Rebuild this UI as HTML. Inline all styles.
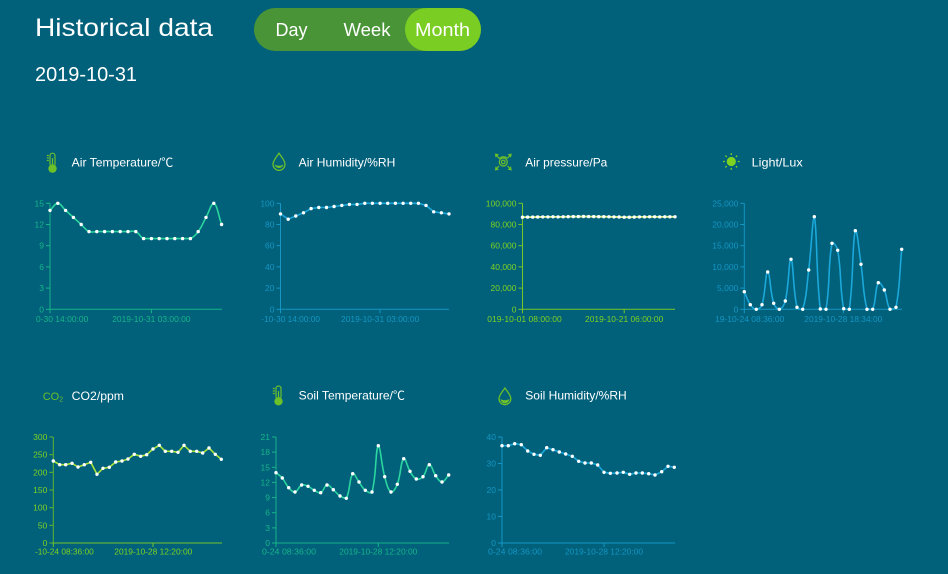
<!DOCTYPE html>
<html>
<head>
<meta charset="utf-8">
<style>
  html,body{margin:0;padding:0;background:#01607a;}
  body{width:948px;height:574px;overflow:hidden;}
  svg{display:block;font-family:"Liberation Sans","Noto Sans CJK SC",sans-serif;}
  .yl{font-size:8.5px;text-anchor:end;}
  .xl{font-size:8.5px;}
  .ttl{font-size:12px;fill:#ffffff;}
</style>
</head>
<body>
<svg width="948" height="574" viewBox="0 0 948 574" xmlns="http://www.w3.org/2000/svg">
  <rect x="0" y="0" width="948" height="574" fill="#01607a"/>

  <!-- Header -->
  <text x="35" y="36" font-size="25" fill="#ffffff" textLength="178" lengthAdjust="spacingAndGlyphs">Historical data</text>
  <text x="35" y="81" font-size="20" fill="#ffffff" textLength="102" lengthAdjust="spacingAndGlyphs">2019-10-31</text>

  <rect x="254" y="8" width="227" height="43" rx="21.5" fill="#4a9438"/>
  <rect x="405" y="8" width="76" height="43" rx="21.5" fill="#7acd22"/>
  <text x="291.5" y="36" font-size="18.5" fill="#ffffff" text-anchor="middle" textLength="32" lengthAdjust="spacingAndGlyphs">Day</text>
  <text x="367" y="36" font-size="18.5" fill="#ffffff" text-anchor="middle" textLength="47" lengthAdjust="spacingAndGlyphs">Week</text>
  <text x="442.5" y="36" font-size="18.5" fill="#ffffff" text-anchor="middle" textLength="55" lengthAdjust="spacingAndGlyphs">Month</text>

  <!-- ============ Chart 1: Air Temperature ============ -->
  <g>
    <g stroke="#6cc02a" fill="none" stroke-width="1.2">
      <rect x="50" y="153.2" width="5" height="13" rx="2.5"/>
      <circle cx="52.5" cy="168.6" r="3.6" fill="#6cc02a"/>
      <line x1="52.5" y1="158" x2="52.5" y2="166"/>
      <line x1="46.8" y1="155.5" x2="48.8" y2="155.5"/>
      <line x1="46.8" y1="158" x2="48.8" y2="158"/>
      <line x1="46.8" y1="160.5" x2="48.8" y2="160.5"/>
    </g>
    <text class="ttl" x="71.7" y="166.7" textLength="101.6" lengthAdjust="spacingAndGlyphs">Air Temperature/℃</text>
    <g stroke="#17b58a" stroke-width="1">
      <line x1="50" y1="203.3" x2="50" y2="309.3"/>
      <line x1="50" y1="309.3" x2="222" y2="309.3"/>
      <line x1="46" y1="309.3" x2="50" y2="309.3"/>
      <line x1="46" y1="288.1" x2="50" y2="288.1"/>
      <line x1="46" y1="266.9" x2="50" y2="266.9"/>
      <line x1="46" y1="245.7" x2="50" y2="245.7"/>
      <line x1="46" y1="224.5" x2="50" y2="224.5"/>
      <line x1="46" y1="203.3" x2="50" y2="203.3"/>
      <line x1="50" y1="309.3" x2="50" y2="313.3"/>
      <line x1="151.4" y1="309.3" x2="151.4" y2="313.3"/>
    </g>
    <g fill="#17b58a">
      <text class="yl" x="44" y="312.3">0</text>
      <text class="yl" x="44" y="291.1">3</text>
      <text class="yl" x="44" y="269.9">6</text>
      <text class="yl" x="44" y="248.7">9</text>
      <text class="yl" x="44" y="227.5">12</text>
      <text class="yl" x="44" y="206.3">15</text>
      <text class="xl" x="36" y="322" textLength="52.3" lengthAdjust="spacingAndGlyphs">0-30 14:00:00</text>
      <text class="xl" x="112.2" y="322" textLength="78.3" lengthAdjust="spacingAndGlyphs">2019-10-31 03:00:00</text>
    </g>
    <g>
      <polyline class="ln sm" fill="none" stroke="#2bd6a0" stroke-width="1.6" stroke-linejoin="round"
        points="50,210.4 57.8,203.3 65.6,210.4 73.4,217.4 81.2,224.5 89,231.6 96.8,231.6 104.6,231.6 112.4,231.6 120.2,231.6 128,231.6 135.8,231.6 143.6,238.6 151.4,238.6 159.2,238.6 167,238.6 174.8,238.6 182.6,238.6 190.4,238.6 198.2,231.6 206,217.4 213.8,203.3 221.6,224.5"/>
    </g>
  </g>

  <!-- ============ Chart 2: Air Humidity ============ -->
  <g>
    <g>
      <path d="M279,153.3 C276.5,157 273,160.5 273,164.3 A6,6 0 0 0 285,164.3 C285,160.5 281.5,157 279,153.3 Z" fill="none" stroke="#6cc02a" stroke-width="1.3"/>
      <path d="M274.6,164.5 Q279,167 283.4,164.5 A4.5,4.5 0 0 1 274.6,164.5 Z" fill="#6cc02a"/>
    </g>
    <text class="ttl" x="298.7" y="166.7" textLength="96.6" lengthAdjust="spacingAndGlyphs">Air Humidity/%RH</text>
    <g stroke="#1596c4" stroke-width="1">
      <line x1="280.5" y1="203.3" x2="280.5" y2="309.3"/>
      <line x1="280.5" y1="309.3" x2="449" y2="309.3"/>
      <line x1="276.5" y1="309.3" x2="280.5" y2="309.3"/>
      <line x1="276.5" y1="288.1" x2="280.5" y2="288.1"/>
      <line x1="276.5" y1="266.9" x2="280.5" y2="266.9"/>
      <line x1="276.5" y1="245.7" x2="280.5" y2="245.7"/>
      <line x1="276.5" y1="224.5" x2="280.5" y2="224.5"/>
      <line x1="276.5" y1="203.3" x2="280.5" y2="203.3"/>
      <line x1="280.5" y1="309.3" x2="280.5" y2="313.3"/>
      <line x1="380.1" y1="309.3" x2="380.1" y2="313.3"/>
    </g>
    <g fill="#1596c4">
      <text class="yl" x="274.5" y="312.3">0</text>
      <text class="yl" x="274.5" y="291.1">20</text>
      <text class="yl" x="274.5" y="269.9">40</text>
      <text class="yl" x="274.5" y="248.7">60</text>
      <text class="yl" x="274.5" y="227.5">80</text>
      <text class="yl" x="274.5" y="206.3">100</text>
      <text class="xl" x="261.3" y="322" textLength="58.7" lengthAdjust="spacingAndGlyphs">-10-30 14:00:00</text>
      <text class="xl" x="341" y="322" textLength="78.3" lengthAdjust="spacingAndGlyphs">2019-10-31 03:00:00</text>
    </g>
    <polyline class="ln" fill="none" stroke="#1ba8da" stroke-width="1.6" stroke-linejoin="round"
      points="280.5,213.9 288.2,219.2 295.8,216 303.5,212.8 311.1,208.6 318.8,207.5 326.5,207.5 334.1,206.5 341.8,205.4 349.4,204.4 357.1,204.4 364.8,203.3 372.4,203.3 380.1,203.3 387.7,203.3 395.4,203.3 403.1,203.3 410.7,203.3 418.4,203.3 426,205.4 433.7,211.8 441.4,212.8 449,213.9"/>
  </g>

  <!-- ============ Chart 3: Air pressure ============ -->
  <g>
    <g stroke="#6cc02a" fill="none" stroke-width="1.2">
      <circle cx="503.3" cy="162" r="1.8"/>
      <circle cx="503.3" cy="162" r="4"/>
      <path d="M499,159 A5.5,5.5 0 0 1 507.5,158.5"/>
      <line x1="496" y1="155" x2="499" y2="158"/>
      <line x1="510.6" y1="155" x2="507.6" y2="158"/>
      <line x1="496" y1="169" x2="499" y2="166"/>
      <line x1="510.6" y1="169" x2="507.6" y2="166"/>
    </g>
    <g fill="#6cc02a">
      <polygon points="494.8,153.5 499,154.3 495.6,157.7"/>
      <polygon points="511.8,153.5 507.6,154.3 511,157.7"/>
      <polygon points="494.8,170.5 499,169.7 495.6,166.3"/>
      <polygon points="511.8,170.5 507.6,169.7 511,166.3"/>
    </g>
    <text class="ttl" x="525.3" y="166.7" textLength="82" lengthAdjust="spacingAndGlyphs">Air pressure/Pa</text>
    <g stroke="#74c62a" stroke-width="1">
      <line x1="522.5" y1="203.3" x2="522.5" y2="309.3"/>
      <line x1="522.5" y1="309.3" x2="675" y2="309.3"/>
      <line x1="518.5" y1="309.3" x2="522.5" y2="309.3"/>
      <line x1="518.5" y1="288.1" x2="522.5" y2="288.1"/>
      <line x1="518.5" y1="266.9" x2="522.5" y2="266.9"/>
      <line x1="518.5" y1="245.7" x2="522.5" y2="245.7"/>
      <line x1="518.5" y1="224.5" x2="522.5" y2="224.5"/>
      <line x1="518.5" y1="203.3" x2="522.5" y2="203.3"/>
      <line x1="522.5" y1="309.3" x2="522.5" y2="313.3"/>
      <line x1="624.2" y1="309.3" x2="624.2" y2="313.3"/>
    </g>
    <g fill="#7ed321">
      <text class="yl" x="516.5" y="312.3">0</text>
      <text class="yl" x="516.5" y="291.1">20,000</text>
      <text class="yl" x="516.5" y="269.9">40,000</text>
      <text class="yl" x="516.5" y="248.7">60,000</text>
      <text class="yl" x="516.5" y="227.5">80,000</text>
      <text class="yl" x="516.5" y="206.3">100,000</text>
      <text class="xl" x="487.3" y="322" textLength="74.4" lengthAdjust="spacingAndGlyphs">019-10-01 08:00:00</text>
      <text class="xl" x="585" y="322" textLength="78.3" lengthAdjust="spacingAndGlyphs">2019-10-21 06:00:00</text>
    </g>
    <polyline class="ln sm" fill="none" stroke="#d8f27a" stroke-width="1.8" stroke-linejoin="round"
      points="522.5,217.2 527.6,217.1 532.7,217.1 537.7,217 542.8,216.9 547.9,216.9 553,216.8 558.1,216.9 563.2,216.8 568.2,216.7 573.3,216.6 578.4,216.6 583.5,216.5 588.6,216.6 593.7,216.6 598.7,216.7 603.8,216.7 608.9,216.8 614,216.9 619.1,217 624.2,217.2 629.2,217.2 634.3,217.1 639.4,216.9 644.5,216.9 649.6,216.8 654.7,216.8 659.7,216.9 664.8,216.8 669.9,216.8 675,216.8"/>
  </g>

  <!-- ============ Chart 4: Light ============ -->
  <g>
    <g>
      <circle cx="731.3" cy="161.5" r="4.6" fill="#7ed321"/>
      <g stroke="#7ed321" stroke-width="1.3">
        <line x1="731.3" y1="153.2" x2="731.3" y2="155"/>
        <line x1="731.3" y1="168" x2="731.3" y2="169.8"/>
        <line x1="723" y1="161.5" x2="724.8" y2="161.5"/>
        <line x1="737.8" y1="161.5" x2="739.6" y2="161.5"/>
        <line x1="725.4" y1="155.6" x2="726.7" y2="156.9"/>
        <line x1="735.9" y1="166.1" x2="737.2" y2="167.4"/>
        <line x1="737.2" y1="155.6" x2="735.9" y2="156.9"/>
        <line x1="726.7" y1="166.1" x2="725.4" y2="167.4"/>
      </g>
    </g>
    <text class="ttl" x="751.7" y="166.7" textLength="51" lengthAdjust="spacingAndGlyphs">Light/Lux</text>
    <g stroke="#1596c4" stroke-width="1">
      <line x1="744.3" y1="203.3" x2="744.3" y2="309.3"/>
      <line x1="744.3" y1="309.3" x2="902" y2="309.3"/>
      <line x1="740.3" y1="309.3" x2="744.3" y2="309.3"/>
      <line x1="740.3" y1="288.1" x2="744.3" y2="288.1"/>
      <line x1="740.3" y1="266.9" x2="744.3" y2="266.9"/>
      <line x1="740.3" y1="245.7" x2="744.3" y2="245.7"/>
      <line x1="740.3" y1="224.5" x2="744.3" y2="224.5"/>
      <line x1="740.3" y1="203.3" x2="744.3" y2="203.3"/>
      <line x1="744.3" y1="309.3" x2="744.3" y2="313.3"/>
      <line x1="843.4" y1="309.3" x2="843.4" y2="313.3"/>
    </g>
    <g fill="#1596c4">
      <text class="yl" x="738.3" y="312.3">0</text>
      <text class="yl" x="738.3" y="291.1">5,000</text>
      <text class="yl" x="738.3" y="269.9">10,000</text>
      <text class="yl" x="738.3" y="248.7">15,000</text>
      <text class="yl" x="738.3" y="227.5">20,000</text>
      <text class="yl" x="738.3" y="206.3">25,000</text>
      <text class="xl" x="715" y="322" textLength="69.3" lengthAdjust="spacingAndGlyphs">19-10-24 08:36:00</text>
      <text class="xl" x="804.3" y="322" textLength="78" lengthAdjust="spacingAndGlyphs">2019-10-28 18:34:00</text>
    </g>
    <polyline class="ln sm" fill="none" stroke="#1ba8da" stroke-width="1.6" stroke-linejoin="round"
      points="744.3,291.7 750.3,304.7 756.3,309.3 762,304.7 767.7,272 773.7,303.3 779.3,309.3 785.3,301 791,259.3 797,307.3 802.7,309.3 808.7,270 814.3,216.7 820.3,309 826,309.3 832,243.3 837.7,250.3 843.7,308.7 849.3,309.3 855.3,230.7 861,264.3 867,309.3 872.7,309.3 878.3,282.7 884.3,290 890,309.3 896,307.3 901.7,249.3"/>
  </g>

  <!-- ============ Chart 5: CO2 ============ -->
  <g>
    <text x="42.7" y="400" font-size="11" fill="#6cc02a">CO<tspan font-size="7" dy="1.5">2</tspan></text>
    <text class="ttl" x="71.7" y="400" textLength="52.3" lengthAdjust="spacingAndGlyphs">CO2/ppm</text>
    <g stroke="#5fb531" stroke-width="1">
      <line x1="53.3" y1="437" x2="53.3" y2="543"/>
      <line x1="53.3" y1="543" x2="222" y2="543" stroke="#74c62a"/>
      <line x1="49.3" y1="543" x2="53.3" y2="543"/>
      <line x1="49.3" y1="525.3" x2="53.3" y2="525.3"/>
      <line x1="49.3" y1="507.7" x2="53.3" y2="507.7"/>
      <line x1="49.3" y1="490" x2="53.3" y2="490"/>
      <line x1="49.3" y1="472.3" x2="53.3" y2="472.3"/>
      <line x1="49.3" y1="454.7" x2="53.3" y2="454.7"/>
      <line x1="49.3" y1="437" x2="53.3" y2="437"/>
      <line x1="53.3" y1="543" x2="53.3" y2="547" stroke="#74c62a"/>
      <line x1="153" y1="543" x2="153" y2="547" stroke="#74c62a"/>
    </g>
    <g fill="#7ed321">
      <text class="yl" x="47.3" y="546">0</text>
      <text class="yl" x="47.3" y="528.3">50</text>
      <text class="yl" x="47.3" y="510.7">100</text>
      <text class="yl" x="47.3" y="493">150</text>
      <text class="yl" x="47.3" y="475.3">200</text>
      <text class="yl" x="47.3" y="457.7">250</text>
      <text class="yl" x="47.3" y="440">300</text>
      <text class="xl" x="35" y="554.5" textLength="58.7" lengthAdjust="spacingAndGlyphs">-10-24 08:36:00</text>
      <text class="xl" x="114.3" y="554.5" textLength="78" lengthAdjust="spacingAndGlyphs">2019-10-28 12:20:00</text>
    </g>
    <polyline class="ln" fill="none" stroke="#a8e63a" stroke-width="1.6" stroke-linejoin="round"
      points="53.3,461 59.7,464.7 65.7,464.7 72,463.3 78,467 84.3,464.7 90.7,462.3 97,474.3 103,468.3 109.3,467.3 115.7,462 122,461 128,459 134.3,454.3 140.7,456.3 146.7,454.7 153,449 159.3,445.3 165.3,451.3 171.7,451.3 178,452.3 184,445.3 190.3,451.3 196.7,451.3 202.7,453 209,448 215.3,454.3 221.3,459.3"/>
  </g>

  <!-- ============ Chart 6: Soil Temperature ============ -->
  <g>
    <g stroke="#6cc02a" fill="none" stroke-width="1.2">
      <rect x="276" y="386" width="5" height="13" rx="2.5"/>
      <circle cx="278.5" cy="401.3" r="3.6" fill="#6cc02a"/>
      <line x1="278.5" y1="391" x2="278.5" y2="399"/>
      <line x1="272.8" y1="388.5" x2="274.8" y2="388.5"/>
      <line x1="272.8" y1="391" x2="274.8" y2="391"/>
      <line x1="272.8" y1="393.5" x2="274.8" y2="393.5"/>
    </g>
    <text class="ttl" x="298.7" y="399.3" textLength="106.3" lengthAdjust="spacingAndGlyphs">Soil Temperature/℃</text>
    <g stroke="#17b58a" stroke-width="1">
      <line x1="276" y1="437" x2="276" y2="543"/>
      <line x1="276" y1="543" x2="449" y2="543"/>
      <line x1="272" y1="543" x2="276" y2="543"/>
      <line x1="272" y1="527.9" x2="276" y2="527.9"/>
      <line x1="272" y1="512.7" x2="276" y2="512.7"/>
      <line x1="272" y1="497.6" x2="276" y2="497.6"/>
      <line x1="272" y1="482.4" x2="276" y2="482.4"/>
      <line x1="272" y1="467.3" x2="276" y2="467.3"/>
      <line x1="272" y1="452.1" x2="276" y2="452.1"/>
      <line x1="272" y1="437" x2="276" y2="437"/>
      <line x1="276" y1="543" x2="276" y2="547"/>
      <line x1="378.3" y1="543" x2="378.3" y2="547"/>
    </g>
    <g fill="#17b58a">
      <text class="yl" x="270" y="546">0</text>
      <text class="yl" x="270" y="530.9">3</text>
      <text class="yl" x="270" y="515.7">6</text>
      <text class="yl" x="270" y="500.6">9</text>
      <text class="yl" x="270" y="485.4">12</text>
      <text class="yl" x="270" y="470.3">15</text>
      <text class="yl" x="270" y="455.1">18</text>
      <text class="yl" x="270" y="440">21</text>
      <text class="xl" x="262" y="554.5" textLength="54" lengthAdjust="spacingAndGlyphs">0-24 08:36:00</text>
      <text class="xl" x="339.3" y="554.5" textLength="78" lengthAdjust="spacingAndGlyphs">2019-10-28 12:20:00</text>
    </g>
    <polyline class="ln sm" fill="none" stroke="#2bd6a0" stroke-width="1.6" stroke-linejoin="round"
      points="276,472.7 282.3,478 288.7,487.7 295,492 301.7,485 308,486.3 314.3,490.3 320.7,492.7 327,485 333.3,489.7 340,496 346.3,498.3 352.7,473.7 359,482 365.3,490.3 372,492 378.3,445.7 384.7,476.7 391,492 397.3,484.3 403.7,458.7 410,471.3 416.3,479 423,476.7 429.3,464.7 435.7,475.7 442,482 448.7,475"/>
  </g>

  <!-- ============ Chart 7: Soil Humidity ============ -->
  <g>
    <g>
      <path d="M504.9,388 C502.4,391.6 499,395 499,398.8 A5.9,5.9 0 0 0 510.8,398.8 C510.8,395 507.4,391.6 504.9,388 Z" fill="none" stroke="#6cc02a" stroke-width="1.3"/>
      <path d="M500.5,399 Q504.9,401.5 509.3,399 A4.4,4.4 0 0 1 500.5,399 Z" fill="#6cc02a"/>
    </g>
    <text class="ttl" x="525.3" y="399.3" textLength="101.4" lengthAdjust="spacingAndGlyphs">Soil Humidity/%RH</text>
    <g stroke="#1596c4" stroke-width="1">
      <line x1="502" y1="437" x2="502" y2="543"/>
      <line x1="502" y1="543" x2="675" y2="543"/>
      <line x1="498" y1="543" x2="502" y2="543"/>
      <line x1="498" y1="516.5" x2="502" y2="516.5"/>
      <line x1="498" y1="490" x2="502" y2="490"/>
      <line x1="498" y1="463.5" x2="502" y2="463.5"/>
      <line x1="498" y1="437" x2="502" y2="437"/>
      <line x1="502" y1="543" x2="502" y2="547"/>
      <line x1="604" y1="543" x2="604" y2="547"/>
    </g>
    <g fill="#1596c4">
      <text class="yl" x="496" y="546">0</text>
      <text class="yl" x="496" y="519.5">10</text>
      <text class="yl" x="496" y="493">20</text>
      <text class="yl" x="496" y="466.5">30</text>
      <text class="yl" x="496" y="440">40</text>
      <text class="xl" x="488" y="554.5" textLength="54" lengthAdjust="spacingAndGlyphs">0-24 08:36:00</text>
      <text class="xl" x="565" y="554.5" textLength="78" lengthAdjust="spacingAndGlyphs">2019-10-28 12:20:00</text>
    </g>
    <polyline class="ln" fill="none" stroke="#1ba8da" stroke-width="1.6" stroke-linejoin="round"
      points="502,445.7 508.3,445.7 514.7,443.7 521.3,444.7 527.7,451 534,454.3 540.3,455.3 546.7,447.7 553,449.7 559.3,452 565.7,454 572.3,456.3 578.7,461.3 585,463 591.3,463 597.7,465 604,472.3 610.3,473.3 617,473 623.3,472.3 629.7,474.3 636,473 642.3,473 648.7,473.7 655,475 661.7,471.7 668,466.3 674.3,467.3"/>
  </g>
</svg>

<script>
(function(){
  var NS = "http://www.w3.org/2000/svg";
  var pls = document.querySelectorAll("polyline.ln");
  for (var k = 0; k < pls.length; k++) {
    var pl = pls[k];
    var raw = pl.getAttribute("points").trim().split(/\s+/);
    var pts = raw.map(function(s){ var a = s.split(","); return [parseFloat(a[0]), parseFloat(a[1])]; });
    var parent = pl.parentNode;
    if (pl.classList.contains("sm")) {
      var s = 0.4;
      var minY = Infinity, maxY = -Infinity, minX = Infinity, maxX = -Infinity;
      pts.forEach(function(p){ minY = Math.min(minY,p[1]); maxY = Math.max(maxY,p[1]); minX = Math.min(minX,p[0]); maxX = Math.max(maxX,p[0]); });
      var cl = function(v,a,b){ return Math.max(a, Math.min(b, v)); };
      var cps = pts.map(function(p,i){
        var prev = pts[i-1] || p, next = pts[i+1] || p;
        var vx = (next[0]-prev[0])*s, vy = (next[1]-prev[1])*s;
        var d0 = Math.hypot(p[0]-prev[0], p[1]-prev[1]);
        var d1 = Math.hypot(next[0]-p[0], next[1]-p[1]);
        var sum = d0 + d1;
        if (sum) { d0 /= sum; d1 /= sum; }
        var c0 = [cl(p[0]-vx*d0,minX,maxX), cl(p[1]-vy*d0,minY,maxY)];
        var c1 = [cl(p[0]+vx*d1,minX,maxX), cl(p[1]+vy*d1,minY,maxY)];
        return [c0, c1];
      });
      var d = "M" + pts[0][0] + "," + pts[0][1];
      for (var i = 1; i < pts.length; i++) {
        var a = cps[i-1][1], b = cps[i][0], p = pts[i];
        d += " C" + a[0].toFixed(2) + "," + a[1].toFixed(2) + " " + b[0].toFixed(2) + "," + b[1].toFixed(2) + " " + p[0] + "," + p[1];
      }
      var path = document.createElementNS(NS, "path");
      path.setAttribute("d", d);
      path.setAttribute("fill", "none");
      path.setAttribute("stroke", pl.getAttribute("stroke"));
      path.setAttribute("stroke-width", pl.getAttribute("stroke-width"));
      path.setAttribute("stroke-linejoin", "round");
      parent.insertBefore(path, pl);
      pl.setAttribute("display", "none");
    }
    pts.forEach(function(p){
      var c = document.createElementNS(NS, "circle");
      c.setAttribute("cx", p[0]);
      c.setAttribute("cy", p[1]);
      c.setAttribute("r", "1.7");
      c.setAttribute("fill", "#ffffff");
      parent.appendChild(c);
    });
  }
})();
</script>
</body>
</html>
